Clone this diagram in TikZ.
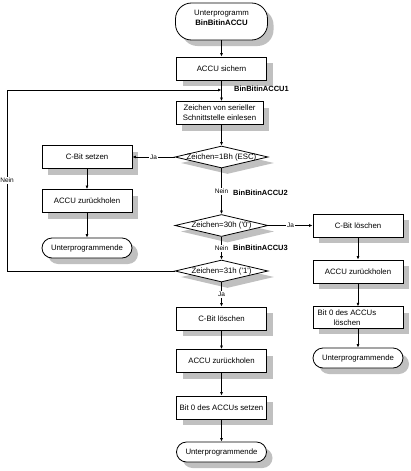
\documentclass[tikz,border=0pt]{standalone}
\usepackage{fontspec}
\setmainfont{Liberation Sans}
\usetikzlibrary{shapes.geometric,shadows,arrows.meta}
\definecolor{shadowgray}{RGB}{192,192,192}
\begin{document}
\begin{tikzpicture}[x=1pt,y=-1pt,
  shd/.style={drop shadow={fill=shadowgray,opacity=1,shadow xshift=6pt,shadow yshift=-6pt}},
  txt/.style={font=\fontsize{7.8}{10}\selectfont,align=center,inner sep=0pt},
  box/.style={draw,line width=0.8pt,fill=white,minimum width=90pt,minimum height=23pt,inner sep=1pt,txt,shd},
  term/.style={box,rounded corners=10pt,minimum height=20pt},
  dia/.style={draw,diamond,line width=0.8pt,fill=white,minimum width=93pt,minimum height=22pt,inner sep=0pt,shd},
  dtxt/.style={font=\fontsize{7.8}{10}\selectfont,inner sep=0pt},
  lbl/.style={font=\fontsize{6.5}{7}\selectfont,fill=white,inner sep=1pt},
  tag/.style={font=\fontsize{7.5}{9}\selectfont\bfseries,inner sep=0pt,anchor=west},
  arr/.style={-{Latex[length=3.5pt,width=3pt]},line width=0.7pt}
]
\useasboundingbox (0,0) rectangle (410,471);

% main column
\node[term,minimum height=37pt,minimum width=92pt,rounded corners=16pt] (start) at (221.5,21.5) {};
\node[txt] (starttxt) at (221.5,17.5) {Unterprogramm\\\textbf{BinBitinACCU}};
\node[box] (s1) at (221.5,68.5) {ACCU sichern};
\node[box,minimum width=87pt] (z) at (219.5,113) {Zeichen von serieller\\Schnittstelle einlesen};
\node[dia,label={[dtxt]center:Zeichen=1Bh (ESC)}] (d1) at (221.5,157) {};
\node[dia,label={[dtxt]center:Zeichen=30h (\textquotesingle0\textquotesingle)}] (d2) at (221.5,225.5) {};
\node[dia,label={[dtxt]center:Zeichen=31h (\textquotesingle1\textquotesingle)}] (d3) at (221.5,271) {};
\node[box] (m1) at (221.5,318.5) {C-Bit löschen};
\node[box] (m2) at (221.5,361) {ACCU zurückholen};
\node[box] (m3) at (221.5,407.5) {Bit 0 des ACCUs setzen};
\node[term] (m4) at (221.5,452) {Unterprogrammende};

% left column
\node[box] (l1) at (87,157) {C-Bit setzen};
\node[box] (l2) at (87,201) {ACCU zurückholen};
\node[term] (l3) at (87,248) {Unterprogrammende};

% right column
\node[box] (r1) at (358,225.5) {C-Bit löschen};
\node[box] (r2) at (358,271.5) {ACCU zurückholen};
\node[box,minimum height=21.5pt] (r3) at (358,317.5) {};
\node[txt] (r3t) at (347,317.5) {Bit 0 des ACCUs\\löschen};
\node[term] (r4) at (358,358) {Unterprogrammende};

% jump labels
\node[tag] (t1) at (234,88.5) {BinBitinACCU1};
\node[tag] (t2) at (233,192.5) {BinBitinACCU2};
\node[tag] (t3) at (233,248) {BinBitinACCU3};

% loop coordinates
\coordinate (j1) at (221.5,90);
\coordinate (lt) at (7,90);
\coordinate (lb) at (7,271);

% connectors
\draw[arr] (start) -- (s1);
\draw[arr] (s1.south) -- (s1.south |- z.north);
\draw[arr] (s1.south |- z.south) -- (d1.north);
\draw[arr] (d1.west) -- node[lbl] (ja1) {Ja} (l1.east);
\draw[arr] (l1) -- (l2);
\draw[arr] (l2) -- (l3);
\draw[arr] (d1.south) -- node[lbl] (nein1) {Nein} (d2.north);
\draw[arr] (d2.east) -- node[lbl] (ja2) {Ja} (r1.west);
\draw[arr] (r1) -- (r2);
\draw[arr] (r2) -- (r3);
\draw[arr] (r3) -- (r4);
\draw[arr] (d2.south) -- node[lbl] (nein2) {Nein} (d3.north);
\draw[arr] (d3.south) -- node[lbl] (ja3) {Ja} (m1.north);
\draw[arr] (m1) -- (m2);
\draw[arr] (m2) -- (m3);
\draw[arr] (m3) -- (m4);
\draw[arr] (d3.west) -- (lb) -- node[lbl] (nein3) {Nein} (lt) -- (j1);
\end{tikzpicture}
\end{document}
